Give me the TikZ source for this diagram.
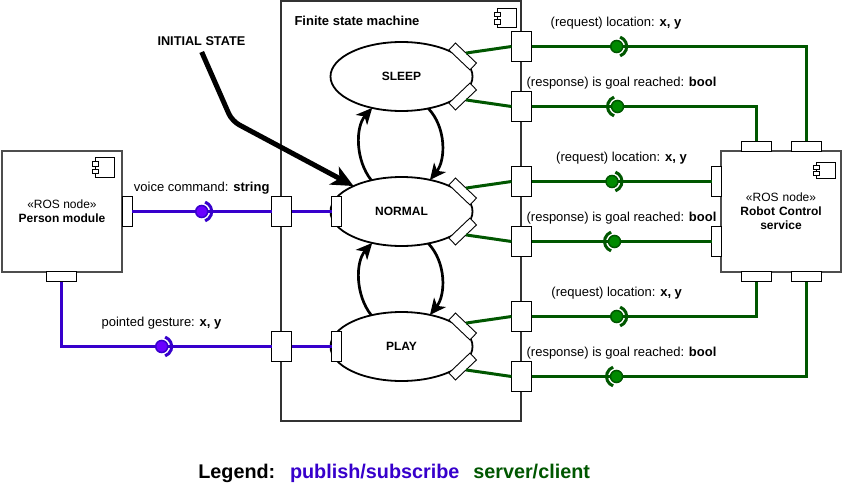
\documentclass[tikz,border=0pt]{standalone}
\usepackage{fontspec}
\setmainfont{Liberation Sans}
\usetikzlibrary{arrows.meta,shapes.geometric}
\definecolor{publine}{HTML}{3700CC}
\definecolor{pubfill}{HTML}{6A00FF}
\definecolor{srvline}{HTML}{005700}
\definecolor{srvfill}{HTML}{008A00}
\definecolor{frameclr}{HTML}{333333}
\definecolor{boxclr}{HTML}{4D4D4D}
\tikzset{
  compicon/.pic={
    \draw[line width=0.8pt,fill=white] (2.7,0) rectangle (21.7,19.5);
    \draw[line width=0.8pt,fill=white] (0,4) rectangle (6,8.5);
    \draw[line width=0.8pt,fill=white] (0,11.5) rectangle (6,16);
  }
}
\begin{document}
\begin{tikzpicture}[x=1pt,y=-1pt,
  every node/.style={inner sep=0pt, outer sep=0pt},
  lbl/.style={font=\fontsize{13}{15}\selectfont, anchor=base},
  portv/.style={draw=black, line width=0.9pt, fill=white, minimum width=10pt, minimum height=30pt},
  porth/.style={draw=black, line width=0.9pt, fill=white, minimum width=30pt, minimum height=10pt},
  fport/.style={draw=black, line width=0.9pt, fill=white, minimum width=20pt, minimum height=30pt},
  sport/.style={draw=black, line width=0.9pt, fill=white, minimum width=29pt, minimum height=9.5pt},
  state/.style={ellipse, draw=black, line width=1.8pt, fill=white, minimum width=142pt, minimum height=69pt, font=\bfseries\fontsize{12}{14}\selectfont},
  rosnode/.style={draw=boxclr, line width=2pt, fill=white, minimum width=120pt, minimum height=121pt, align=center, font=\fontsize{12}{14}\selectfont},
  pub/.style={draw=publine, line width=3pt},
  srv/.style={draw=srvline, line width=3pt},
  pubball/.style={circle, draw=publine, fill=pubfill, line width=1.5pt, minimum size=12pt},
  srvball/.style={circle, draw=srvline, fill=srvfill, line width=1.5pt, minimum size=12pt},
  trans/.style={draw=black, line width=2.7pt, -{Stealth[length=16pt,width=15pt,inset=4.5pt]}},
]
\fill[white] (0,0) rectangle (842,484);
\useasboundingbox (0,0) rectangle (842,484);

% frame
\node[draw=frameclr, line width=2pt, minimum width=240pt, minimum height=419.5pt] (fsm) at (401,211.25) {};
\node[anchor=base west, font=\bfseries\fontsize{13}{15}\selectfont] (fsmtitle) at (294.5,26) {Finite state machine};
\pic at (494.3,8.3) {compicon};

% states
\node[state] (sleep) at (401.5,76.5) {SLEEP};
\node[state] (normal) at (401.5,211.5) {NORMAL};
\node[state] (play) at (401.5,346.5) {PLAY};

% rotated ports on states
\node[sport, rotate=-43.6] (sU) at (462.7,56.5) {};
\node[sport, rotate=43.6] (sD) at (462.7,96.5) {};
\node[sport, rotate=-43.6] (nU) at (462.7,191.5) {};
\node[sport, rotate=43.6] (nD) at (462.7,231.5) {};
\node[sport, rotate=-43.6] (pU) at (462.7,326.5) {};
\node[sport, rotate=43.6] (pD) at (462.7,366.5) {};

% left ports on states
\node[portv] (eN) at (336.5,211.5) {};
\node[portv] (eP) at (336.5,346.5) {};

% frame ports
\node[fport] (fL1) at (281.5,211.5) {};
\node[fport] (fL2) at (281.5,346.5) {};
\node[fport] (fR1) at (521.5,46.5) {};
\node[fport] (fR2) at (521.5,106.5) {};
\node[fport] (fR3) at (521.5,181.5) {};
\node[fport] (fR4) at (521.5,241.5) {};
\node[fport] (fR5) at (521.5,316.5) {};
\node[fport] (fR6) at (521.5,376.5) {};

% ROS nodes
\node[rosnode] (person) at (62,211.5) {«ROS node»\\\textbf{Person module}};
\pic at (92.3,157.7) {compicon};
\node[portv] (pR) at (127,211.5) {};
\node[porth] (pB) at (61.5,276.5) {};

\node[rosnode, text width=110pt] (robot) at (781,211.5) {«ROS node»\\\textbf{Robot Control}\\\textbf{service}};
\pic[yscale=0.78] at (813.3,162.7) {compicon};
\node[portv] (rL1) at (716.5,181.5) {};
\node[portv] (rL2) at (716.5,241.5) {};
\node[porth] (rT1) at (756.5,146) {};
\node[porth] (rT2) at (806.5,146) {};
\node[porth] (rB1) at (756.5,276.5) {};
\node[porth] (rB2) at (806.5,276.5) {};

% balls
\node[pubball] (vball) at (201.7,211.5) {};
\node[pubball] (gball) at (161.7,346.5) {};
\node[srvball] (b1) at (616.7,46.5) {};
\node[srvball] (b2) at (617.5,106.5) {};
\node[srvball] (b3) at (612,181.5) {};
\node[srvball] (b4) at (614.5,241.5) {};
\node[srvball] (b5) at (616.7,316.5) {};
\node[srvball] (b6) at (616.5,376.5) {};

% publish/subscribe connectors
\draw[pub] (pR.east) -- (vball);
\draw[pub] (vball) -- (fL1.west);
\draw[pub] (fL1.east) -- (eN.west);
\draw[pub] (pB.south) |- (gball);
\draw[pub] (gball) -- (fL2.west);
\draw[pub] (fL2.east) -- (eP.west);
\draw[pub] ([shift={(-70:10)}]vball.center) arc[start angle=-70, end angle=70, radius=10];
\draw[pub] ([shift={(-70:10)}]gball.center) arc[start angle=-70, end angle=70, radius=10];

% server/client connectors
\draw[srv] (sU.north) -- (fR1.west);
\draw[srv] (sD.south) -- (fR2.west);
\draw[srv] (nU.north) -- (fR3.west);
\draw[srv] (nD.south) -- (fR4.west);
\draw[srv] (pU.north) -- (fR5.west);
\draw[srv] (pD.south) -- (fR6.west);

\draw[srv] (fR1.east) -- (b1);
\draw[srv] (b1) -| (rT2.north);
\draw[srv] (fR2.east) -- (b2);
\draw[srv] (b2) -| (rT1.north);
\draw[srv] (fR3.east) -- (b3);
\draw[srv] (b3) -- (rL1.west);
\draw[srv] (fR4.east) -- (b4);
\draw[srv] (b4) -- (rL2.west);
\draw[srv] (fR5.east) -- (b5);
\draw[srv] (b5) -| (rB1.south);
\draw[srv] (fR6.east) -- (b6);
\draw[srv] (b6) -| (rB2.south);

\draw[srv] ([shift={(-70:10)}]b1.center) arc[start angle=-70, end angle=70, radius=10];
\draw[srv] ([shift={(110:10)}]b2.center) arc[start angle=110, end angle=250, radius=10];
\draw[srv] ([shift={(-70:10)}]b3.center) arc[start angle=-70, end angle=70, radius=10];
\draw[srv] ([shift={(110:10)}]b4.center) arc[start angle=110, end angle=250, radius=10];
\draw[srv] ([shift={(-70:10)}]b5.center) arc[start angle=-70, end angle=70, radius=10];
\draw[srv] ([shift={(110:10)}]b6.center) arc[start angle=110, end angle=250, radius=10];

% state transitions
\draw[trans] (normal.134) .. controls +(-16,-20) and +(-17,19) .. (sleep.227);
\draw[trans] (sleep.310) .. controls +(18,19) and +(16,-20) .. (normal.48);
\draw[trans] (play.134) .. controls +(-16,-20) and +(-17,19) .. (normal.227);
\draw[trans] (normal.310) .. controls +(18,19) and +(16,-20) .. (play.48);

% initial state
\node[anchor=base, font=\bfseries\fontsize{12.7}{15}\selectfont] (initlbl) at (201.4,46) {INITIAL STATE};
\coordinate (initstart) at (201.7,52);
\coordinate (initbend) at (232,121);
\draw[line width=5pt, rounded corners=8pt, -{Stealth[length=22pt,width=20pt,inset=6pt]}] (initstart) -- (initbend) -- (normal.152);

% labels
\node[lbl] (lvoice) at (201.7,191.5) {voice command: \textbf{string}};
\node[lbl] (lgest) at (161.5,326.5) {pointed gesture: \textbf{x, y}};
\node[lbl] (lreq1) at (616,26.5) {(request) location: \textbf{x, y}};
\node[lbl] (lres1) at (621.5,86.5) {(response) is goal reached: \textbf{bool}};
\node[lbl] (lreq2) at (621.5,161.5) {(request) location: \textbf{x, y}};
\node[lbl] (lres2) at (621.5,221.5) {(response) is goal reached: \textbf{bool}};
\node[lbl] (lreq3) at (616.7,296.5) {(request) location: \textbf{x, y}};
\node[lbl] (lres3) at (621.5,356.5) {(response) is goal reached: \textbf{bool}};

% legend
\node[anchor=base west, font=\bfseries\fontsize{19.8}{22}\selectfont] (leg) at (198.3,478) {Legend:};
\node[anchor=base west, font=\bfseries\fontsize{19.8}{22}\selectfont, text=publine] (legpub) at (290,478) {publish/subscribe};
\node[anchor=base west, font=\bfseries\fontsize{19.8}{22}\selectfont, text=srvline] (legsrv) at (473.3,478) {server/client};
\end{tikzpicture}
\end{document}
